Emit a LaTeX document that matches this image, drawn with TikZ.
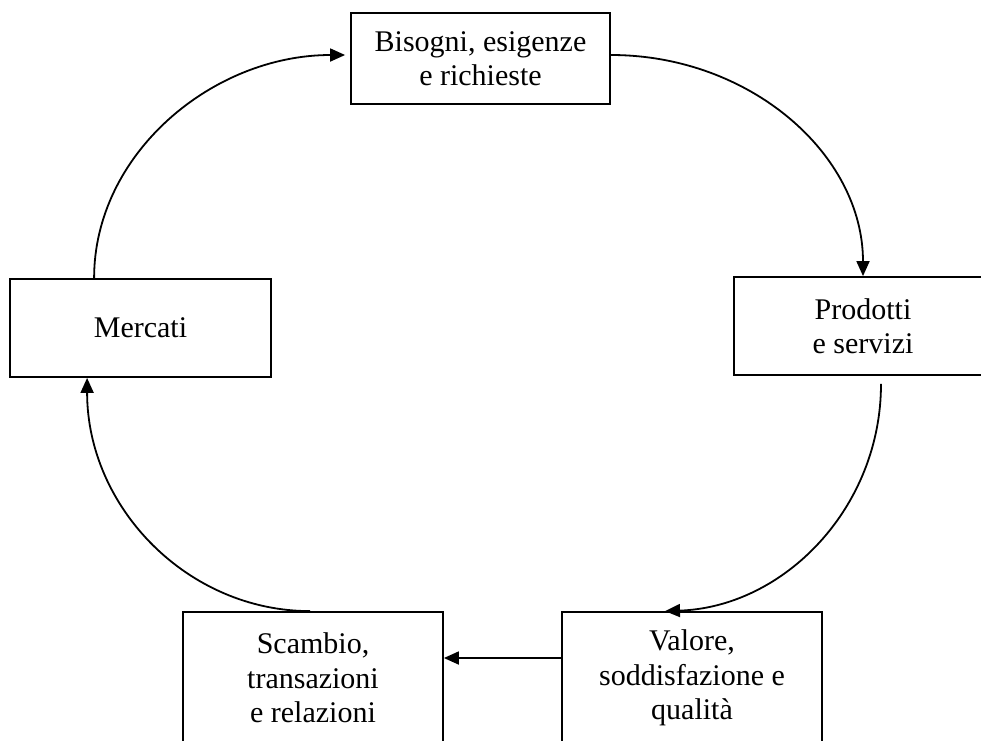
\documentclass[tikz,border=0pt]{standalone}
\usepackage{fontspec}
\setmainfont{Liberation Serif}
\usetikzlibrary{arrows.meta,calc}
\tikzset{
  boxnode/.style={draw, line width=1.8pt, inner sep=0pt, align=center,
    font=\fontsize{30}{34.5}\selectfont},
  conn/.style={line width=1.8pt, -{Triangle[length=15pt,width=13pt]}}
}
\begin{document}
\begin{tikzpicture}[x=1pt,y=-1pt]
\useasboundingbox (0,0) rectangle (981,740);
\node[boxnode, minimum width=259pt, minimum height=91pt] (top) at (480.5,58.5) {Bisogni, esigenze\\e richieste};
\node[boxnode, minimum width=258pt, minimum height=98pt] (prod) at (863,326) {Prodotti\\e servizi};
\node[boxnode, minimum width=261pt, minimum height=98pt] (merc) at (140.5,328) {Mercati};
\node[boxnode, minimum width=260pt, minimum height=132pt] (scam) at (313,678) {Scambio,\\transazioni\\e relazioni};
\node[boxnode, minimum width=260pt, minimum height=132pt] (val) at (692,678) {Valore,\\soddisfazione e\\qualità};

\draw[conn, shorten >=5pt] ($(merc.north west)+(85,0)$) .. controls +(0,-124) and +(-138,0) .. ($(top.west)+(0,-3.5)$);
\draw[conn] ($(top.east)+(0,-3.5)$) .. controls +(139,0) and +(0,-122) .. (prod.north);
\draw[conn] ($(prod.south)+(18,8)$) .. controls +(0,124) and +(119,-4) .. ($(val.north)+(-27,0)$);
\draw[conn] ($(val.west)+(0,-20)$) -- ($(scam.east)+(0,-20)$);
\draw[conn] ($(scam.north)+(-3,0)$) .. controls +(-122,0) and +(0,130) .. ($(merc.south west)+(78,0)$);
\end{tikzpicture}
\end{document}
